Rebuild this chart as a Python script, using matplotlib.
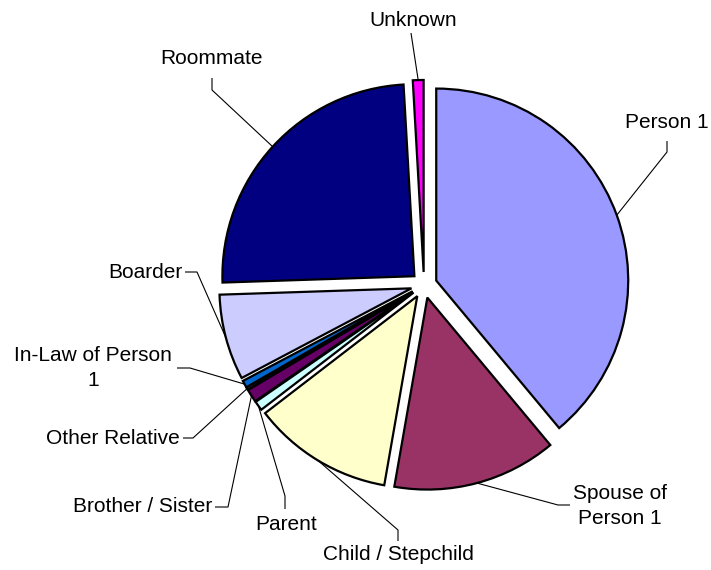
import numpy as np
import matplotlib
matplotlib.use("Agg")
import matplotlib.pyplot as plt

plt.rcParams['font.family'] = ['Liberation Sans', 'DejaVu Sans']

# data (percent of persons), clockwise from 12 o'clock
labels = ["Person 1", "Spouse of\nPerson 1", "Child / Stepchild", "Parent",
          "Brother / Sister", "Other Relative", "In-Law of Person\n1",
          "Boarder", "Roommate", "Unknown"]
values = [38.9, 13.8, 11.8, 0.8, 1.1, 0.2, 0.6, 7.2, 24.6, 0.9]
colors = ["#9999FF", "#993366", "#FFFFCC", "#CCFFFF", "#660066",
          "#FF8080", "#0066CC", "#CCCCFF", "#000080", "#FF00FF"]

W, H = 711, 570

# label layout in image pixels: text position, alignment, elbow and end of leader
label_pos = [(667, 123, "center"), (620, 506, "center"), (398, 555, "center"),
             (286, 525, "center"), (212, 507, "right"), (180, 438, "right"),
             (93, 368, "center"), (182, 272, "right"), (212, 58, "center"),
             (413, 20, "center")]
leaders = [[(667, 152), (667, 141)], [(558, 505), (570, 505)],
           [(398, 530), (398, 541)], [(285, 496), (285, 509)],
           [(228, 507), (215, 507)], [(193, 438), (183, 438)],
           [(190, 368), (177, 368)], [(197, 272), (185, 272)],
           [(212, 90), (212, 78)], [(411, 33), (411, 33)]]

fig = plt.figure(figsize=(W / 100, H / 100), dpi=100)
ax = fig.add_axes([0, 0, 1, 1])

wedges, _ = ax.pie(values, colors=colors, startangle=90, counterclock=False,
                   radius=192, center=(424, H - 285), explode=[13] * len(values),
                   wedgeprops=dict(edgecolor="black", linewidth=1.6))

for w, lab, (tx, ty, ha), pts in zip(wedges, labels, label_pos, leaders):
    mid = np.deg2rad((w.theta1 + w.theta2) / 2)
    cx, cy = w.center
    ax_pt = (cx + w.r * np.cos(mid), cy + w.r * np.sin(mid))
    xs = [ax_pt[0]] + [p[0] for p in pts]
    ys = [ax_pt[1]] + [H - p[1] for p in pts]
    ax.plot(xs, ys, color="black", linewidth=0.8, solid_capstyle="butt")
    ax.text(tx, H - ty, lab, ha=ha, va="center", multialignment="center",
            fontsize=15, linespacing=1.35)

ax.set_xlim(0, W)
ax.set_ylim(0, H)
ax.set_aspect("equal")
ax.axis("off")

fig.savefig("out.png", dpi=100, facecolor="white")
